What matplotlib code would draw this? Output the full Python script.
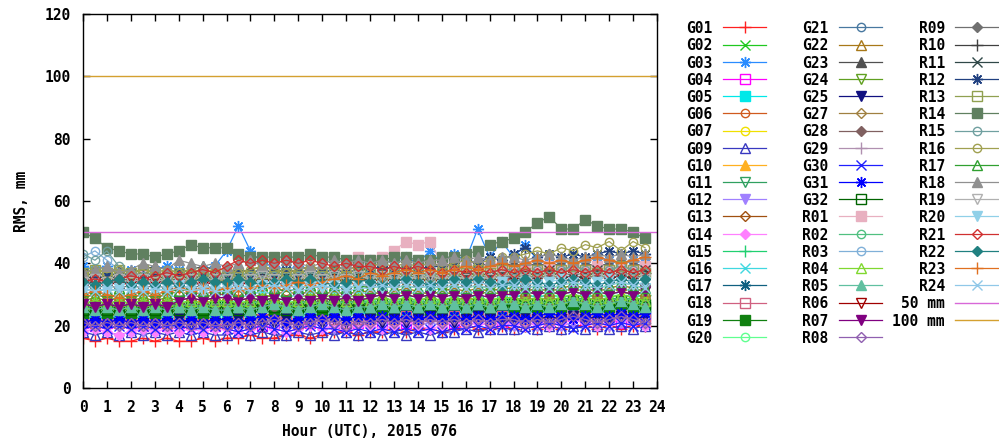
import numpy as np
import matplotlib
matplotlib.use('Agg')
import matplotlib.pyplot as plt
from matplotlib.lines import Line2D

# ---------------- data ----------------
hours = np.arange(0, 24, 0.5)

G01 = [16,15,16,15,15,16,15,16,15,15,16,15, 16,16,17,16,16,17,17,16,17,18,18,17, 18,18,19,18,19,19,18,19,20,19,19,20, 19,20,19,20,19,20,20,19,20,19,20,20]
G02 = [23,22,23,24,22,23,22,23,24,23,22,23, 24,23,23,24,23,24,25,24,23,24,25,24, 24,25,24,25,24,25,26,25,24,25,26,25, 24,25,26,25,26,25,24,25,26,25,26,25]
G03 = [39,38,39,37,38,37,38,39,38,37,38,39, 44,52,44,40,39,38,39,38,37,38,39,40, 41,40,41,42,40,44,40,43,41,51,42,47, 42,46,41,40,41,40,41,42,41,40,41,40]
G04 = [21,20,21,22,21,20,21,20,21,22,21,20, 21,22,21,20,21,22,21,21,22,21,20,21, 22,21,22,21,22,23,22,21,22,23,22,21, 22,23,22,21,22,23,22,23,22,21,22,23]
G05 = [23,22,23,22,23,24,23,22,23,22,23,24, 23,24,23,22,23,24,23,24,23,24,25,24, 24,23,24,25,24,23,24,25,24,25,24,25, 25,24,25,24,25,26,25,24,25,26,25,24]
G06 = [30,31,30,29,30,31,30,31,32,31,30,31, 32,31,32,33,32,31,32,33,32,33,34,33, 33,34,33,34,35,34,33,34,35,34,35,34, 35,34,35,36,35,34,35,36,35,36,35,36]
G07 = [26,27,26,25,26,27,26,27,26,27,28,27, 27,26,27,28,27,26,27,28,27,28,27,28, 28,27,28,27,28,29,28,27,28,29,28,27, 28,29,28,29,28,29,30,29,28,29,30,29]
G09 = [18,17,18,17,18,17,18,17,18,17,18,17, 17,18,17,18,17,17,18,17,18,17,18,17, 18,17,18,17,18,17,18,18,19,18,19,19, 19,20,19,20,19,20,19,20,19,20,19,20]
G10 = [26,27,26,27,26,27,28,27,26,27,28,27, 27,28,27,28,27,28,27,28,29,28,27,28, 28,29,28,29,28,29,28,29,28,29,28,29, 29,28,29,28,29,30,29,28,29,30,31,30]
G11 = [25,26,25,26,25,26,25,26,25,26,25,26, 26,25,26,27,26,25,26,27,26,27,26,27, 27,26,27,26,27,28,27,26,27,28,27,28, 27,28,27,28,27,28,29,28,27,28,29,28]
G12 = [19,20,19,20,19,18,19,20,19,20,19,20, 20,19,20,21,20,19,20,21,20,19,20,21, 20,21,20,21,20,21,20,21,20,21,20,21, 20,21,20,21,20,21,22,21,20,21,22,21]
G13 = [23,24,23,24,23,24,23,24,25,24,23,24, 24,25,24,23,24,25,24,25,24,25,24,25, 25,24,25,26,25,24,25,26,25,26,25,26, 26,25,26,25,26,27,26,25,26,27,26,25]
G14 = [18,19,18,17,18,19,18,19,18,19,18,19, 19,18,19,20,19,18,19,20,19,20,19,20, 20,19,20,21,20,19,20,21,20,21,20,21, 21,20,21,20,21,22,21,20,21,22,21,20]
G15 = [27,28,27,28,27,28,27,28,27,28,27,28, 28,27,28,29,28,27,28,29,28,29,28,29, 28,29,28,29,28,29,28,29,30,29,28,29, 29,30,29,30,29,30,29,30,29,30,29,30]
G16 = [29,30,29,28,29,30,29,30,29,30,29,30, 30,29,30,31,30,29,30,31,30,31,30,31, 30,31,30,31,30,31,32,31,30,31,32,31, 31,32,31,32,31,32,31,32,31,32,31,32]
G17 = [23,24,23,22,23,24,23,24,23,24,23,24, 24,23,24,25,24,23,24,25,24,25,24,25, 24,25,24,25,24,25,24,25,26,25,24,25, 25,26,25,26,25,26,25,26,25,26,25,26]
G18 = [22,21,22,21,22,21,22,21,22,21,22,21, 21,22,21,22,23,22,21,22,23,22,21,22, 22,23,22,23,22,23,22,23,22,23,22,23, 23,22,23,22,23,24,23,22,23,24,23,22]
G19 = [24,25,24,25,24,25,24,25,26,25,24,25, 25,26,25,26,25,26,25,26,25,26,25,26, 26,25,26,27,26,25,26,27,26,27,26,27, 26,27,26,27,26,27,26,27,26,27,26,27]
G20 = [26,27,26,27,26,27,26,27,28,27,26,27, 27,28,27,28,27,28,27,28,27,28,29,28, 28,27,28,29,28,27,28,29,28,29,28,29, 28,29,28,29,30,29,28,29,30,29,28,29]
G21 = [35,34,35,34,35,34,35,34,35,36,35,34, 35,36,35,34,35,36,35,34,35,36,35,36, 36,35,36,35,36,37,36,35,36,37,36,37, 37,36,37,36,37,38,37,36,37,38,37,36]
G22 = [29,30,29,30,29,30,29,30,31,30,29,30, 30,31,30,29,30,31,30,31,30,31,30,31, 31,30,31,32,31,30,31,32,31,32,31,32, 32,31,32,31,32,33,32,31,32,33,32,31]
G23 = [37,38,37,38,37,38,39,38,37,38,39,38, 38,37,38,39,38,37,38,39,38,39,38,39, 38,39,38,39,38,39,40,39,38,39,40,39, 40,39,40,39,40,41,40,39,40,41,40,39]
G24 = [28,29,28,29,28,29,28,29,28,29,28,29, 29,28,29,30,29,28,29,30,29,30,29,30, 29,30,29,30,29,30,31,30,29,30,31,30, 30,31,30,31,30,31,30,31,30,31,30,31]
G25 = [20,21,20,21,20,21,20,21,22,21,20,21, 21,22,21,20,21,22,21,22,21,22,21,22, 22,21,22,21,22,23,22,21,22,23,22,21, 22,23,22,23,22,23,22,23,22,23,22,23]
G27 = [26,27,26,27,26,27,26,27,26,27,26,27, 27,26,27,28,27,26,27,28,27,28,27,28, 27,28,27,28,27,28,27,28,29,28,27,28, 28,29,28,29,28,29,28,29,28,29,28,29]
G28 = [27,26,27,26,27,26,27,26,27,26,27,26, 26,27,26,27,26,27,26,27,28,27,26,27, 27,28,27,28,27,28,27,28,27,28,27,28, 28,27,28,27,28,29,28,27,28,29,28,27]
G29 = [20,21,20,21,20,21,20,21,20,21,20,21, 21,20,21,22,21,20,21,22,21,22,21,22, 21,22,21,22,21,22,21,22,21,22,21,22, 22,21,22,21,22,23,22,21,22,23,22,21]
G30 = [19,20,19,20,19,20,19,20,20,19,19,20, 19,18,19,20,19,18,19,20,19,19,18,19, 18,19,18,19,18,19,18,19,19,20,19,20, 20,19,20,21,20,19,20,21,20,21,20,21]
G31 = [21,22,21,22,21,22,21,22,21,22,21,22, 22,21,22,23,22,21,22,23,22,23,22,23, 22,23,22,23,22,23,22,23,22,23,22,23, 23,22,23,24,23,22,23,24,23,24,23,24]
G32 = [25,26,25,26,25,26,25,26,25,26,25,26, 26,25,26,27,26,25,26,27,26,27,26,27, 26,27,26,27,26,27,26,27,26,27,26,27, 27,26,27,26,27,28,27,26,27,28,27,26]
R01 = [35,36,35,36,35,36,35,36,35,36,35,36, 36,35,36,37,36,35,36,37,36,37,38,42, 41,42,44,47,46,47,40,38,39,38,39,38, 38,39,38,39,38,39,38,39,38,39,38,39]
R02 = [26,27,26,27,26,27,26,27,26,27,26,27, 27,26,27,28,27,26,27,28,27,28,27,28, 27,28,27,28,27,28,27,28,27,28,27,28, 28,27,28,27,28,29,28,27,28,29,28,27]
R03 = [42,44,41,38,35,34,35,34,35,34,35,34, 34,35,34,35,34,35,34,35,34,35,34,35, 35,34,35,36,35,34,35,36,35,36,35,36, 35,36,35,36,35,36,35,36,35,36,35,36]
R04 = [27,28,27,28,27,28,27,28,27,28,27,28, 28,27,28,29,28,27,28,29,28,29,28,29, 28,29,28,29,28,29,28,29,28,29,28,29, 29,28,29,28,29,30,29,28,29,30,29,28]
R05 = [26,25,26,25,26,25,26,25,26,25,26,25, 25,26,25,26,27,26,25,26,27,26,25,26, 26,27,26,27,26,27,26,27,26,27,26,27, 27,26,27,26,27,28,27,26,27,28,27,26]
R06 = [33,34,33,34,33,34,33,34,33,34,33,34, 34,33,34,35,34,33,34,35,34,35,34,35, 34,35,34,35,34,35,34,35,36,35,34,35, 35,36,35,36,35,36,35,36,35,36,35,36]
R07 = [27,26,27,26,27,26,27,26,28,29,28,29, 29,28,29,28,29,28,29,28,29,28,29,28, 29,30,29,30,29,30,29,30,29,30,29,30, 30,31,30,31,30,31,30,31,30,31,30,31]
R08 = [21,20,21,20,21,20,21,20,21,20,21,20, 20,21,20,21,22,21,20,21,22,21,20,21, 21,22,21,22,21,22,21,22,21,22,21,22, 22,21,22,21,22,23,22,21,22,23,22,21]
R09 = [33,32,33,32,33,32,33,32,33,32,33,32, 32,33,32,33,34,33,32,33,34,33,32,33, 33,34,33,34,33,34,33,34,33,34,33,34, 34,33,34,33,34,35,34,33,34,35,34,33]
R10 = [35,34,35,34,35,34,35,34,35,34,35,34, 34,35,34,35,36,35,34,35,36,35,34,35, 35,36,35,36,35,36,35,36,35,36,35,36, 36,35,36,37,36,35,36,37,36,37,36,37]
R11 = [36,35,36,35,36,35,36,35,36,35,36,35, 35,36,35,36,37,36,35,36,37,36,35,36, 36,37,36,37,36,37,36,37,36,37,36,37, 37,36,37,38,37,36,37,38,37,38,37,38]
R12 = [37,36,37,36,37,36,37,36,37,36,37,36, 37,38,37,38,37,38,37,38,37,38,37,38, 38,39,38,39,38,39,39,40,41,40,42,41, 43,45,42,43,42,43,42,43,44,43,44,43]
R13 = [37,38,37,38,37,38,37,36,37,36,37,36, 36,37,36,37,36,37,36,37,36,37,36,37, 37,36,37,38,37,36,37,38,37,38,37,38, 38,37,38,37,38,39,38,37,38,39,38,37]
R14 = [50,48,45,44,43,43,42,43,44,46,45,45, 45,43,42,42,42,42,42,43,42,42,41,41, 41,41,42,42,41,41,42,42,43,44,46,47, 48,50,53,55,51,51,54,52,51,51,50,48]
R15 = [43,41,44,39,37,36,37,36,37,36,37,36, 36,37,36,37,36,37,36,37,36,37,36,37, 37,36,37,38,37,36,37,38,37,38,37,38, 38,37,38,37,38,39,38,37,38,39,38,37]
R16 = [37,38,37,38,37,38,37,38,37,38,37,38, 38,37,38,39,38,37,38,39,38,39,38,39, 39,40,39,40,39,40,39,40,41,40,41,42, 42,43,44,43,45,44,46,45,47,44,47,45]
R17 = [31,32,31,32,31,32,31,32,31,32,31,32, 32,31,32,33,32,31,32,33,32,33,32,33, 32,33,32,33,32,33,32,33,32,33,32,33, 33,32,33,32,33,34,33,32,33,34,33,32]
R18 = [37,38,39,37,38,40,39,38,41,40,39,40, 39,40,41,39,40,41,40,39,40,41,40,41, 40,41,40,41,40,41,41,42,41,42,41,42, 42,41,42,43,42,41,42,43,42,43,42,43]
R19 = [34,35,34,35,34,35,34,35,34,35,34,35, 35,34,35,36,35,34,35,36,35,36,35,36, 35,36,35,36,35,36,35,36,35,36,35,36, 36,35,36,35,36,37,36,35,36,37,36,35]
R20 = [31,32,31,32,31,32,31,32,33,32,31,32, 32,33,32,33,32,33,32,33,32,33,32,33, 33,32,33,34,33,32,33,34,33,34,33,34, 33,34,33,34,35,34,33,34,35,34,33,34]
R21 = [34,35,34,35,36,35,36,37,36,37,38,37, 39,41,40,41,40,41,40,41,40,39,40,39, 39,38,39,38,39,38,37,38,37,38,37,38, 37,38,37,38,37,38,37,38,37,38,37,38]
R22 = [34,33,34,35,33,34,33,34,33,34,35,34, 34,35,34,33,34,35,34,35,34,33,34,35, 34,33,34,35,34,33,34,35,34,35,34,33, 34,35,34,33,34,35,34,33,34,35,34,35]
R23 = [30,31,30,29,30,31,30,31,32,31,32,31, 32,31,32,33,32,33,34,33,34,35,36,35, 37,36,37,38,37,38,37,38,39,38,39,40, 39,40,41,40,41,40,41,42,41,40,41,42]
R24 = [32,31,32,31,32,31,32,31,32,31,32,31, 31,32,31,32,33,32,31,32,33,32,31,32, 32,33,32,33,32,33,32,33,32,33,32,33, 33,32,33,32,33,34,33,32,33,34,33,32]

names = ['G01','G02','G03','G04','G05','G06','G07','G09','G10','G11','G12','G13','G14',
         'G15','G16','G17','G18','G19','G20','G21','G22','G23','G24','G25','G27','G28',
         'G29','G30','G31','G32','R01','R02','R03','R04','R05','R06','R07','R08','R09',
         'R10','R11','R12','R13','R14','R15','R16','R17','R18','R19','R20','R21','R22',
         'R23','R24']
series = [G01,G02,G03,G04,G05,G06,G07,G09,G10,G11,G12,G13,G14,
          G15,G16,G17,G18,G19,G20,G21,G22,G23,G24,G25,G27,G28,
          G29,G30,G31,G32,R01,R02,R03,R04,R05,R06,R07,R08,R09,
          R10,R11,R12,R13,R14,R15,R16,R17,R18,R19,R20,R21,R22,
          R23,R24]

ref_levels = [50, 100]
ref_labels = ['50 mm', '100 mm']

# ---------------- styles ----------------
colors = ['#ff2020','#20c820','#2a8cff','#ff00ff','#00e8e8','#d05a1e','#f0e000','#3838c0','#ffb020','#30a060',
          '#a080ff','#a05010','#ff80ff','#20d070','#40d8e0','#106080','#d06080','#108010','#60ff90','#4878a0',
          '#a87818','#505050','#60a020','#101080','#a08040','#806060','#b090b0','#2020ff','#0000ff','#006400',
          '#e8b0c0','#50c080','#80b0d8','#80d830','#60c0a0','#a00000','#800080','#9060b0','#707070','#404040',
          '#304848','#204080','#90a050','#608060','#70a0a0','#a0a050','#30a030','#909090','#b0b0b0','#90d0e8',
          '#d03030','#208080','#e07020','#90c8e8']
ref_colors = ['#d868d8', '#d4a030']

star = (8, 2, 0)
marker_cycle = [('+', True, 8), ('x', True, 7), (star, True, 8), ('s', False, 6.5), ('s', True, 7),
                ('o', False, 6), ('o', False, 6), ('^', False, 7.5), ('^', True, 7.5),
                ('v', False, 7.5), ('v', True, 7.5), ('D', False, 5.5), ('D', True, 5.5)]

FONT = ['DejaVu Sans Mono', 'DejaVu Sans']
plt.rcParams['font.family'] = FONT
plt.rcParams['font.weight'] = 'bold'
plt.rcParams['font.size'] = 10

W, H = 999, 443
fig = plt.figure(figsize=(W / 100, H / 100), dpi=100)
ax = fig.add_axes([83 / W, 55 / H, 574 / W, 374 / H])


def style(i):
    m, filled, ms = marker_cycle[i % len(marker_cycle)]
    c = colors[i]
    return dict(color=c, lw=0.9, marker=m, ms=ms, mec=c, mfc=c if filled else 'none', mew=1.0)


for i, vals in enumerate(series):
    ax.plot(hours, vals, **style(i))

for lvl, col in zip(ref_levels, ref_colors):
    ax.axhline(lvl, color=col, lw=1.0)

ax.set_xlim(0, 24)
ax.set_ylim(0, 120)
ax.set_xticks(range(0, 25))
ax.set_yticks(range(0, 121, 20))
ax.tick_params(direction='in', top=True, right=True, length=5, width=1, pad=9, labelsize=10.5)
for sp in ax.spines.values():
    sp.set_linewidth(1.0)
ax.set_xlabel('Hour (UTC), 2015 076', fontsize=10.5, fontweight='bold', labelpad=6)
ax.set_ylabel('RMS, mm', fontsize=10.5, fontweight='bold', labelpad=11)

# ---------------- legend (3 columns, label then sample) ----------------
text_x = [712, 828, 945]
line_x = [(723, 766), (839, 882), (955, 998)]
row0, drow = 27.3, 17.2
entries = [(n, style(i)) for i, n in enumerate(names)]
entries += [(lab, dict(color=c, lw=1.0)) for lab, c in zip(ref_labels, ref_colors)]
for k, (lab, st) in enumerate(entries):
    c, r = divmod(k, 19)
    yf = 1 - (row0 + drow * r) / H
    fig.text(text_x[c] / W, yf, lab, ha='right', va='center_baseline', fontsize=10.5, fontweight='bold')
    x0, x1 = line_x[c]
    fig.add_artist(Line2D([x0 / W, x1 / W], [yf, yf], color=st['color'], lw=st['lw']))
    if 'marker' in st:
        mst = {k2: v for k2, v in st.items() if k2 not in ('lw',)}
        fig.add_artist(Line2D([(x0 + x1) / 2 / W], [yf], lw=0, **mst))

fig.savefig('out.png', dpi=100)
